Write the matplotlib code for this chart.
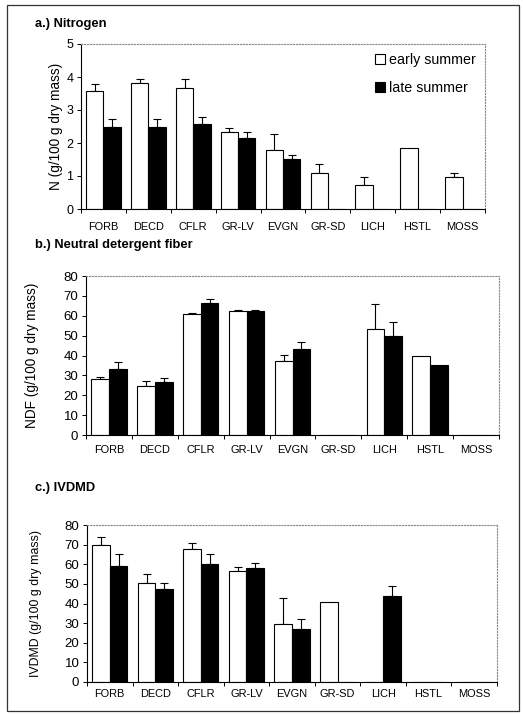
import numpy as np
import matplotlib
matplotlib.use('Agg')
import matplotlib.pyplot as plt
from matplotlib.patches import Rectangle

plt.rcParams['font.family'] = ['Liberation Sans', 'DejaVu Sans']

categorias = ['FORB', 'DECD', 'CFLR', 'GR-LV', 'EVGN', 'GR-SD', 'LICH', 'HSTL', 'MOSS']

# a.) Nitrogen
n_temprano = [3.58, 3.82, 3.68, 2.32, 1.78, 1.08, 0.72, 1.84, 0.97]
n_temprano_err = [0.22, 0.11, 0.26, 0.12, 0.50, 0.27, 0.24, 0, 0.12]
n_tardio = [2.47, 2.49, 2.58, 2.14, 1.52, 0, 0, 0, 0]
n_tardio_err = [0.25, 0.24, 0.21, 0.18, 0.11, 0, 0, 0, 0]

# b.) Neutral detergent fiber
ndf_temprano = [28.0, 24.8, 61.1, 62.5, 37.0, 0, 53.2, 39.5, 0]
ndf_temprano_err = [1.3, 2.5, 0.5, 0.5, 3.2, 0, 12.5, 0, 0]
ndf_tardio = [33.3, 26.8, 66.3, 62.6, 43.3, 0, 49.8, 35.0, 0]
ndf_tardio_err = [3.4, 1.7, 2.0, 0.5, 3.7, 0, 7.3, 0, 0]

# c.) IVDMD
iv_temprano = [69.8, 50.6, 67.9, 56.7, 29.6, 40.7, 0, 0, 0]
iv_temprano_err = [3.9, 4.4, 3.1, 1.9, 13.3, 0, 0, 0, 0]
iv_tardio = [59.1, 47.5, 60.1, 58.2, 27.0, 0, 43.6, 0, 0]
iv_tardio_err = [5.9, 3.2, 5.3, 2.6, 5.0, 0, 5.4, 0, 0]

W, H = 523, 715
fig = plt.figure(figsize=(W / 100, H / 100), dpi=100)
fig.patches.append(Rectangle((7 / W, 1 - 711 / H), 512 / W, 706 / H,
                             transform=fig.transFigure, fill=False,
                             edgecolor='#333333', linewidth=0.9))


def caja(izq, arriba, der, abajo):
    return [izq / W, 1 - abajo / H, (der - izq) / W, (abajo - arriba) / H]


def panel(rect, temprano, t_err, tardio, td_err, ymax, paso, ylabel, ylabel_size,
          titulo, titulo_y, label_x, ytick_size, xpad, legend=False):
    ax = fig.add_axes(rect)
    x = np.arange(len(categorias))
    w = 0.385
    temprano = np.array(temprano)
    tardio = np.array(tardio)
    t_err = np.array(t_err)
    td_err = np.array(td_err)
    ax.bar(x - w / 2, temprano, w, color='white', edgecolor='black',
           linewidth=0.8, label='early summer', zorder=2)
    ax.bar(x + w / 2, tardio, w, color='black', edgecolor='black',
           linewidth=0.8, label='late summer', zorder=2)
    m = t_err > 0
    ax.errorbar(x[m] - w / 2, temprano[m], yerr=[np.zeros(m.sum()), t_err[m]],
                fmt='none', ecolor='black', elinewidth=0.8, capsize=3,
                capthick=0.8, zorder=1)
    m = td_err > 0
    ax.errorbar(x[m] + w / 2, tardio[m], yerr=[np.zeros(m.sum()), td_err[m]],
                fmt='none', ecolor='black', elinewidth=0.8, capsize=3,
                capthick=0.8, zorder=1)
    ax.set_xlim(-0.5, len(categorias) - 0.5)
    ax.set_ylim(0, ymax)
    ax.set_yticks(np.arange(0, ymax + paso / 2, paso))
    ax.set_xticks(x)
    ax.set_xticklabels(categorias, fontsize=7.9)
    ax.set_xticks(np.arange(-0.5, len(categorias)), minor=True)
    ax.tick_params(axis='x', which='major', length=0, pad=xpad)
    ax.tick_params(axis='x', which='minor', length=3, width=0.7)
    ax.tick_params(axis='y', labelsize=ytick_size, length=3, width=0.7, pad=2.5)
    for s in ['top', 'right']:
        ax.spines[s].set_color('#888888')
        ax.spines[s].set_linestyle(':')
        ax.spines[s].set_linewidth(0.8)
    for s in ['left', 'bottom']:
        ax.spines[s].set_linewidth(0.8)
    ax.set_ylabel(ylabel, fontsize=ylabel_size)
    ax.yaxis.set_label_coords(label_x, 0.5)
    fig.text(35 / W, 1 - titulo_y / H, titulo, fontsize=9.3,
             fontweight='bold', va='center', ha='left')
    if legend:
        ax.legend(loc='upper right', frameon=False, fontsize=10.3,
                  handlelength=0.65, handleheight=0.65, handletextpad=0.3,
                  labelspacing=0.95, borderaxespad=0.25)
    return ax


panel(caja(81, 44, 485, 209), n_temprano, n_temprano_err, n_tardio, n_tardio_err,
      5, 1, 'N (g/100 g dry mass)', 9.8, 'a.) Nitrogen', 24, -0.045, 9, 9,
      legend=True)
panel(caja(86, 276, 499, 435), ndf_temprano, ndf_temprano_err, ndf_tardio,
      ndf_tardio_err, 80, 10, 'NDF (g/100 g dry mass)', 9.8,
      'b.) Neutral detergent fiber', 245, -0.115, 9.5, 7)
panel(caja(87, 525, 497, 682), iv_temprano, iv_temprano_err, iv_tardio,
      iv_tardio_err, 80, 10, 'IVDMD (g/100 g dry mass)', 8.9, 'c.) IVDMD', 488,
      -0.11, 9.5, 5)

fig.savefig('out.png', dpi=100)
